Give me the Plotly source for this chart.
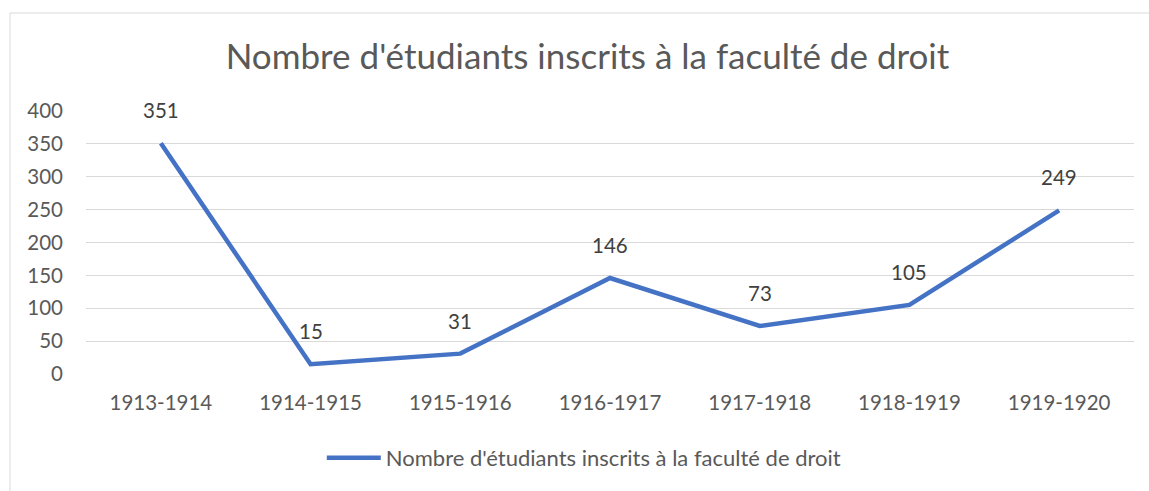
import plotly.graph_objects as go

categories = ["1913-1914", "1914-1915", "1915-1916", "1916-1917", "1917-1918", "1918-1919", "1919-1920"]
students = [351, 15, 31, 146, 73, 105, 249]
series_name = "Nombre d'étudiants inscrits à la faculté de droit"
title_text = "Nombre d'étudiants inscrits à la faculté de droit"
y_ticks = [0, 50, 100, 150, 200, 250, 300, 350, 400]

W, H = 1149, 491
L, R = 86, 1134
T, B = 111, 374
pw, ph = R - L, B - T

def px_x(p):
    return (p - L) / pw

def px_y(p):
    return (B - p) / ph

FONT = "Lato"
GRAY = "#595959"

fig = go.Figure()
fig.add_trace(go.Scatter(
    x=categories, y=students, mode="lines", name=series_name,
    line=dict(color="#4472C4", width=4.5),
))

for c, v in zip(categories, students):
    fig.add_annotation(x=c, y=v, text=str(v), showarrow=False, yshift=33,
                       font=dict(family=FONT, size=20.5, color="#404040"))

fig.add_shape(type="rect", xref="paper", yref="paper",
              x0=px_x(10), x1=px_x(1151), y0=px_y(495), y1=px_y(13),
              line=dict(color="#D9D9D9", width=1), fillcolor="rgba(0,0,0,0)", layer="below")

fig.update_layout(
    width=W, height=H,
    margin=dict(l=L, r=W - R, t=T, b=H - B, pad=0),
    paper_bgcolor="white", plot_bgcolor="white",
    title=dict(text=title_text, x=587.5 / W, xanchor="center", y=1 - 57 / H, yanchor="middle",
               font=dict(family=FONT, size=35, color=GRAY)),
    showlegend=True,
    legend=dict(orientation="h", x=0.475, xanchor="center", y=px_y(458), yanchor="middle",
                font=dict(family=FONT, size=22, color=GRAY), itemwidth=54, bgcolor="rgba(0,0,0,0)"),
    xaxis=dict(type="category", range=[-0.5, 6.5], showgrid=False, showline=False, zeroline=False,
               tickfont=dict(family=FONT, size=20.5, color=GRAY), ticks="", ticklabelstandoff=14),
    yaxis=dict(range=[0, 400], tickvals=y_ticks, showgrid=True, gridcolor="#D9D9D9", gridwidth=1,
               zeroline=False, showline=False, ticks="",
               tickfont=dict(family=FONT, size=20.5, color=GRAY), ticklabelstandoff=22),
)

fig.write_html("out.html", config={"displayModeBar": False},
               post_script="document.body.style.margin='0';")
